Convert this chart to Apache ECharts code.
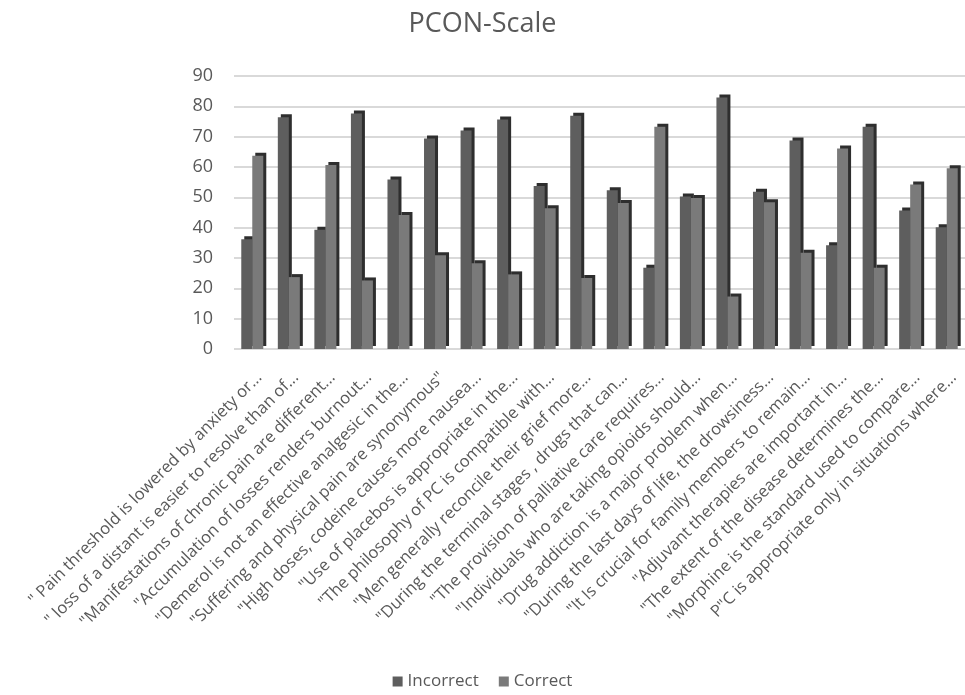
<!DOCTYPE html>
<html>
<head>
<meta charset="utf-8">
<title>PCON-Scale</title>
<script src="https://cdn.jsdelivr.net/npm/echarts@6/dist/echarts.min.js"></script>
<style>
  html, body { margin: 0; padding: 0; background: #fff; }
  #chart { width: 965px; height: 695px; }
</style>
</head>
<body>
<div id="chart"></div>
<script>
var categories = [
  '" Pain threshold is lowered by anxiety or...',
  '" loss of a distant is easier to resolve than of...',
  '"Manifestations of chronic pain are different...',
  '"Accumulation of losses renders burnout...',
  '"Demerol is not an effective analgesic in the...',
  '"Suffering and physical pain are synonymous"',
  '"High doses, codeine causes more nausea...',
  '"Use of placebos is appropriate in the...',
  '"The philosophy of PC is compatible with...',
  '"Men generally reconcile their grief more...',
  '"During the terminal stages , drugs that can...',
  '"The provision of palliative care requires...',
  '"Individuals who are taking opioids should...',
  '"Drug addiction is a major problem when...',
  '"During the last days of life, the drowsiness...',
  '"It Is crucial for family members to remain...',
  '"Adjuvant therapies are important in...',
  '"The extent of the disease determines the...',
  '"Morphine is the standard used to compare...',
  'P"C is appropriate only in situations where...'
]
var incorrect = [36.2, 76.4, 39.3, 77.6, 55.9, 69.4, 72, 75.7, 53.7, 76.9, 52.3, 26.8, 50.3, 82.9, 51.8, 68.7, 34.2, 73.3, 45.7, 40.1]
var correct = [63.7, 23.7, 60.7, 22.6, 44.2, 30.9, 28.3, 24.6, 46.4, 23.4, 48.1, 73.3, 49.8, 17.3, 48.4, 31.7, 66.1, 26.8, 54.2, 59.6]

var chart = echarts.init(document.getElementById('chart'))

var textColor = '#595959'
var font = 'Open Sans'

chart.setOption({
  animation: false,
  title: {
    text: 'PCON-Scale',
    left: 'center',
    top: 6,
    textStyle: { fontFamily: font, fontSize: 27, fontWeight: 'normal', color: textColor }
  },
  legend: {
    bottom: 0,
    left: 'center',
    itemWidth: 10,
    itemHeight: 10,
    itemGap: 20,
    icon: 'rect',
    textStyle: { fontFamily: font, fontSize: 17, color: textColor },
    data: ['Incorrect', 'Correct']
  },
  grid: { left: 234, right: 0, top: 76, bottom: 346 },
  xAxis: {
    type: 'category',
    data: categories,
    axisLine: { show: false },
    axisTick: { show: false },
    axisLabel: {
      interval: 0,
      rotate: 45,
      margin: 33,
      padding: [0, -10, 0, 0],
      fontFamily: font,
      fontSize: 16.5,
      color: textColor
    }
  },
  yAxis: {
    type: 'value',
    min: 0,
    max: 90,
    interval: 10,
    axisLine: { show: false },
    axisTick: { show: false },
    axisLabel: { margin: 21, fontFamily: font, fontSize: 18, color: textColor },
    splitLine: { lineStyle: { color: '#d9d9d9', width: 2 } }
  },
  series: [
    {
      name: 'Incorrect',
      type: 'bar',
      data: incorrect,
      barWidth: 11,
      barGap: '0%',
      itemStyle: {
        color: '#5e5e5e',
        shadowColor: '#2e2e2e',
        shadowBlur: 0,
        shadowOffsetX: 3,
        shadowOffsetY: -3
      }
    },
    {
      name: 'Correct',
      type: 'bar',
      data: correct,
      barWidth: 11,
      barGap: '0%',
      itemStyle: {
        color: '#7a7a7a',
        shadowColor: '#2e2e2e',
        shadowBlur: 0,
        shadowOffsetX: 3,
        shadowOffsetY: -3
      }
    }
  ]
})

window.addEventListener('resize', function () {
  chart.resize()
})
</script>
</body>
</html>
